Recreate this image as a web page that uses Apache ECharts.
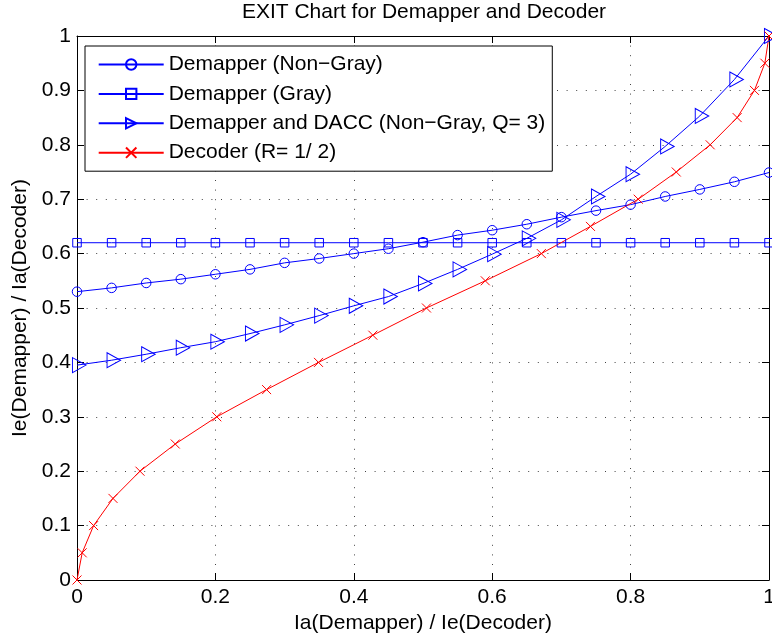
<!DOCTYPE html>
<html>
<head>
<meta charset="utf-8">
<script src="https://cdn.jsdelivr.net/npm/echarts@6/dist/echarts.min.js"></script>
<style>
  html, body { margin: 0; padding: 0; background: #fff; }
  #chart { width: 772px; height: 641px; }
</style>
</head>
<body>
<div id="chart"></div>
<script>
// Mutual information grid used by the demapper curves
const iaGrid = [0, 0.05, 0.1, 0.15, 0.2, 0.25, 0.3, 0.35, 0.4, 0.45, 0.5,
                0.55, 0.6, 0.65, 0.7, 0.75, 0.8, 0.85, 0.9, 0.95, 1];

const demapperNonGray = [0.530, 0.537, 0.546, 0.553, 0.562, 0.571, 0.583, 0.591, 0.600, 0.609, 0.621,
                         0.634, 0.643, 0.654, 0.667, 0.679, 0.690, 0.705, 0.718, 0.732, 0.749];
const demapperGray = [0.62, 0.62, 0.62, 0.62, 0.62, 0.62, 0.62, 0.62, 0.62, 0.62, 0.62,
                      0.62, 0.62, 0.62, 0.62, 0.62, 0.62, 0.62, 0.62, 0.62, 0.62];
const demapperDacc = [0.395, 0.404, 0.415, 0.427, 0.438, 0.453, 0.469, 0.486, 0.504, 0.521, 0.545,
                      0.571, 0.599, 0.628, 0.662, 0.705, 0.746, 0.797, 0.853, 0.920, 1.0];

// Decoder curve (axes swapped: Ie(Decoder) on x, Ia(Decoder) on y)
const decoderX = [0, 0.0075, 0.024, 0.052, 0.091, 0.142, 0.202, 0.274, 0.349, 0.4275, 0.505,
                  0.590, 0.671, 0.742, 0.811, 0.866, 0.915, 0.954, 0.979, 0.994, 1.0];
const decoderY = [0, 0.05, 0.1, 0.15, 0.2, 0.25, 0.3, 0.35, 0.4, 0.45, 0.5,
                  0.55, 0.6, 0.65, 0.7, 0.75, 0.8, 0.85, 0.9, 0.95, 1.0];

const seriesNames = ['Demapper (Non\u2212Gray)', 'Demapper (Gray)',
                     'Demapper and DACC (Non\u2212Gray, Q= 3)', 'Decoder (R= 1/ 2)'];
const xTickLabels = ['0', '0.2', '0.4', '0.6', '0.8', '1'];
const yTickLabels = ['0', '0.1', '0.2', '0.3', '0.4', '0.5', '0.6', '0.7', '0.8', '0.9', '1'];

const FONT = '"Liberation Sans", Arial, Helvetica, sans-serif';
const BLUE = '#0000ff';
const RED = '#ff0000';

function pairs(xs, ys) {
  return xs.map((x, i) => [x, ys[i]]);
}

const chart = echarts.init(document.getElementById('chart'), null, { renderer: 'canvas' });

const gridLine = { show: true, lineStyle: { color: '#444', width: 1, type: [1, 8.6] } };
const blackLine = { show: true, onZero: false, lineStyle: { color: '#000', width: 1 } };
const inTick = { show: true, inside: true, length: 7, lineStyle: { color: '#000', width: 1 } };

function lineSeries(name, data, color, symbol, size, offset) {
  return {
    name: name,
    type: 'line',
    data: data,
    xAxisIndex: 0,
    yAxisIndex: 0,
    clip: false,
    symbol: symbol,
    symbolSize: size,
    symbolOffset: offset || [0, 0],
    showAllSymbol: true,
    lineStyle: { color: color, width: 1 },
    itemStyle: { color: 'none', borderColor: color, borderWidth: 1 },
    emphasis: { disabled: true },
    silent: true
  };
}

const option = {
  animation: false,
  backgroundColor: '#fff',
  textStyle: { fontFamily: FONT },
  graphic: [{
    type: 'text',
    x: 424,
    y: 12,
    style: {
      text: 'EXIT Chart for Demapper and Decoder',
      font: '21px ' + FONT,
      fill: '#000',
      textAlign: 'center',
      textVerticalAlign: 'middle'
    }
  }],
  grid: { left: 77, right: 3, top: 36, bottom: 61, outerBoundsMode: 'none', containLabel: false },
  legend: {
    orient: 'vertical',
    left: 85,
    top: 46,
    padding: [8, 7, 8, 12.7],
    itemWidth: 65,
    itemHeight: 13,
    itemGap: 8.4,
    backgroundColor: '#fff',
    borderColor: '#000',
    borderWidth: 1,
    selectedMode: false,
    textStyle: { fontSize: 21, color: '#000', fontFamily: FONT },
    data: seriesNames
  },
  xAxis: [{
    type: 'value', position: 'bottom', min: 0, max: 1, interval: 0.2,
    name: 'Ia(Demapper) / Ie(Decoder)', nameLocation: 'middle', nameGap: 33,
    nameTextStyle: { fontSize: 21, color: '#000', fontFamily: FONT },
    axisLine: blackLine, axisTick: inTick, splitLine: gridLine,
    axisLabel: { fontSize: 21, color: '#000', margin: 7, fontFamily: FONT,
                 formatter: v => xTickLabels[Math.round(v / 0.2)] }
  }, {
    type: 'value', position: 'top', min: 0, max: 1, interval: 0.2,
    axisLine: blackLine, axisTick: inTick, splitLine: { show: false },
    axisLabel: { show: false }
  }],
  yAxis: [{
    type: 'value', position: 'left', min: 0, max: 1, interval: 0.1,
    name: 'Ie(Demapper) / Ia(Decoder)', nameLocation: 'middle', nameGap: 44,
    nameTextStyle: { fontSize: 21, color: '#000', fontFamily: FONT },
    axisLine: blackLine, axisTick: inTick, splitLine: gridLine,
    axisLabel: { fontSize: 21, color: '#000', margin: 6, fontFamily: FONT,
                 formatter: v => yTickLabels[Math.round(v / 0.1)] }
  }, {
    type: 'value', position: 'right', min: 0, max: 1, interval: 0.1,
    axisLine: blackLine, axisTick: inTick, splitLine: { show: false },
    axisLabel: { show: false }
  }],
  series: [
    lineSeries(seriesNames[0], pairs(iaGrid, demapperNonGray), BLUE, 'circle', 9.5),
    lineSeries(seriesNames[1], pairs(iaGrid, demapperGray), BLUE, 'rect', 8.5),
    lineSeries(seriesNames[2], pairs(iaGrid, demapperDacc), BLUE,
               'path://M0,0 L13,7.5 L0,15 Z', [13.5, 15], [2.2, 0]),
    lineSeries(seriesNames[3], pairs(decoderX, decoderY), RED,
               'path://M0,0 L10,10 M10,0 L0,10', 9)
  ]
};

chart.setOption(option);
</script>
</body>
</html>
